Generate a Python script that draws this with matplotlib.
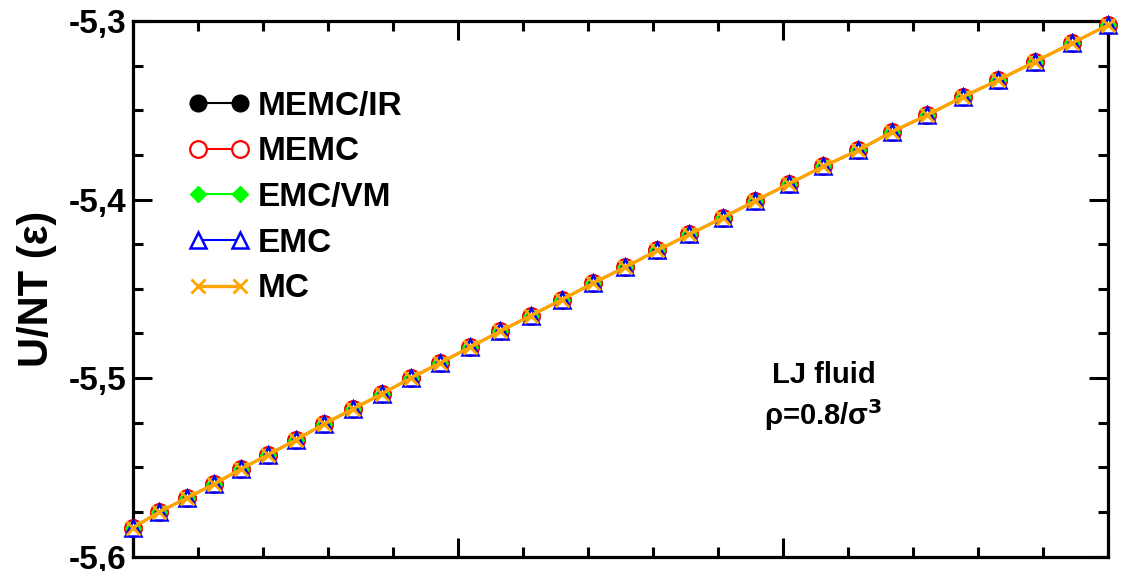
import matplotlib
matplotlib.use("Agg")
import matplotlib.pyplot as plt
from matplotlib.ticker import MultipleLocator, NullFormatter, FuncFormatter

plt.rcParams['font.family'] = ['Liberation Sans', 'DejaVu Sans']
plt.rcParams['font.weight'] = 'bold'

# x positions (arbitrary units, axis 0..3)
x_vals = [0.000, 0.080, 0.164, 0.248, 0.330, 0.415, 0.501, 0.587, 0.675, 0.764,
          0.854, 0.944, 1.036, 1.128, 1.223, 1.318, 1.415, 1.513, 1.612, 1.711,
          1.814, 1.913, 2.018, 2.123, 2.231, 2.334, 2.443, 2.552, 2.662, 2.774,
          2.887, 3.000]

u_memc_ir = [-5.5837, -5.5749, -5.5672, -5.5594, -5.5510, -5.5429, -5.5345, -5.5257,
             -5.5173, -5.5089, -5.4999, -5.4915, -5.4827, -5.4738, -5.4650, -5.4561,
             -5.4468, -5.4379, -5.4285, -5.4195, -5.4101, -5.4008, -5.3911, -5.3814,
             -5.3724, -5.3621, -5.3527, -5.3425, -5.3331, -5.3228, -5.3125, -5.3022]
u_memc = list(u_memc_ir)
u_emc_vm = list(u_memc_ir)
u_emc = list(u_memc_ir)
u_mc = list(u_memc_ir)

labels = ['MEMC/IR', 'MEMC', 'EMC/VM', 'EMC', 'MC']

fig = plt.figure(figsize=(11.24, 5.71), dpi=100)
ax = fig.add_axes([133.3 / 1124, 1 - 556.7 / 571, 975 / 1124, 535.7 / 571])

ax.plot(x_vals, u_memc_ir, '-o', color='black', mfc='black', mec='black',
        ms=12, lw=1.5, label=labels[0], clip_on=False, zorder=3)
ax.plot(x_vals, u_memc, '-o', color='red', mfc='white', mec='red',
        ms=12, mew=1.6, lw=1.5, label=labels[1], clip_on=False, zorder=4)
ax.plot(x_vals, u_emc_vm, '-D', color='#00ff00', mfc='#00ff00', mec='#00ff00',
        ms=7.8, lw=1.5, label=labels[2], clip_on=False, zorder=5)
ax.plot(x_vals, u_emc, '-^', color='blue', mfc='white', mec='blue',
        ms=11, mew=1.8, lw=1.5, label=labels[3], clip_on=False, zorder=6)
ax.plot(x_vals, u_mc, '-x', color='#ffa500', mec='#ffa500',
        ms=9.5, mew=2.0, lw=2.4, label=labels[4], clip_on=False, zorder=7)

ax.set_xlim(0, 3)
ax.set_ylim(-5.6, -5.3)
ax.xaxis.set_major_locator(MultipleLocator(1))
ax.xaxis.set_minor_locator(MultipleLocator(0.2))
ax.yaxis.set_major_locator(MultipleLocator(0.1))
ax.yaxis.set_minor_locator(MultipleLocator(0.025))
ax.xaxis.set_major_formatter(NullFormatter())
ax.yaxis.set_major_formatter(FuncFormatter(lambda v, p: ('%.1f' % v).replace('.', ',')))

ax.tick_params(which='both', direction='in', top=True, right=True, width=2.2)
ax.tick_params(which='major', length=13.5, labelsize=24, pad=5)
ax.tick_params(which='minor', length=7)
for s in ax.spines.values():
    s.set_linewidth(2.3)

ax.set_ylabel('U/NT (ε)', fontsize=30, fontweight='bold', labelpad=8)

ax.text(0.708, 0.34, 'LJ fluid', transform=ax.transAxes, fontsize=21,
        fontweight='bold', ha='center', va='center')
ax.text(0.708, 0.265, r'ρ=0.8/σ$^\mathbf{3}$', transform=ax.transAxes, fontsize=21,
        fontweight='bold', ha='center', va='center')

leg = ax.legend(loc='upper left', bbox_to_anchor=(0.056, 0.87), frameon=False,
                numpoints=2, handlelength=1.86, handletextpad=0.24,
                labelspacing=0.44, borderpad=0, borderaxespad=0,
                prop={'size': 24, 'weight': 'bold'})

fig.savefig('out.png', dpi=100)
